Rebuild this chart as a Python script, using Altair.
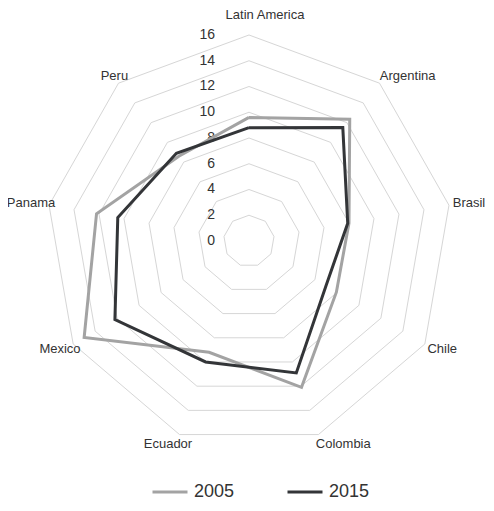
import altair as alt
import pandas as pd

# ---- data ----
categories = ["Latin America", "Argentina", "Brasil", "Chile", "Colombia",
              "Ecuador", "Mexico", "Panama", "Peru"]
values_2005 = [9.6, 12.35, 8.0, 7.95, 12.1, 9.2, 15.0, 12.2, 8.6]
values_2015 = [8.8, 11.5, 7.9, 7.0, 10.9, 10.0, 12.2, 10.5, 8.9]
years = ["2005", "2015"]
grid_levels = [2, 4, 6, 8, 10, 12, 14, 16]
tick_labels = [0, 2, 4, 6, 8, 10, 12, 14, 16]

FONT = "Liberation Sans"
TEXT_COLOR = "#333333"
n = len(categories)

series_rows = []
for year, vals in zip(years, [values_2005, values_2015]):
    for i in range(n + 1):
        series_rows.append({"year": year, "idx": i, "value": vals[i % n]})
series_df = pd.DataFrame(series_rows)

grid_df = pd.DataFrame([{"level": lv, "idx": i, "value": lv}
                        for lv in grid_levels for i in range(n + 1)])
label_df = pd.DataFrame({"category": categories, "idx": list(range(n))})
tick_df = pd.DataFrame({"value": tick_labels, "label": [str(t) for t in tick_labels]})

angle_expr = f"2 * PI * datum.idx / {n}"
x_scale = alt.Scale(domain=[-18.991, 18.676], nice=False, zero=False)
y_scale = alt.Scale(domain=[-20.35, 18.097], nice=False, zero=False)


def polar(base, r_expr="datum.value"):
    return base.transform_calculate(
        angle=angle_expr,
        px=f"({r_expr}) * sin(datum.angle)",
        py=f"({r_expr}) * cos(datum.angle)",
    )


X = alt.X("px:Q", scale=x_scale, axis=None)
Y = alt.Y("py:Q", scale=y_scale, axis=None)

grid = polar(alt.Chart(grid_df)).mark_line(color="#d6d6d6", strokeWidth=1).encode(
    x=X, y=Y, detail="level:N", order="idx:Q"
)

ticks = alt.Chart(tick_df).transform_calculate(px="0", py="datum.value").mark_text(
    align="right", baseline="middle", dx=-34, fontSize=14, font=FONT, color=TEXT_COLOR
).encode(x=X, y=Y, text="label:N")

series = polar(alt.Chart(series_df)).mark_line(strokeWidth=3).encode(
    x=X, y=Y, order="idx:Q",
    color=alt.Color(
        "year:N",
        scale=alt.Scale(domain=years, range=["#a3a3a3", "#333538"]),
        legend=alt.Legend(
            title=None, orient="none", legendX=143, legendY=465,
            direction="horizontal", symbolType="stroke", symbolSize=1225,
            symbolStrokeWidth=3, labelFontSize=18, labelFont=FONT,
            labelColor=TEXT_COLOR, labelOffset=5, columnPadding=46, padding=0,
        ),
    ),
)

label_base = polar(alt.Chart(label_df), "16.78")
lab_top = label_base.transform_filter("datum.idx == 0").mark_text(
    align="center", baseline="middle", dx=16, dy=-10, fontSize=13, font=FONT, color=TEXT_COLOR
).encode(x=X, y=Y, text="category:N")
lab_right = label_base.transform_filter("datum.idx >= 1 && datum.idx <= 4").mark_text(
    align="left", baseline="middle", dx=-6, fontSize=13, font=FONT, color=TEXT_COLOR
).encode(x=X, y=Y, text="category:N")
lab_left = label_base.transform_filter("datum.idx >= 5").mark_text(
    align="right", baseline="middle", dx=16, fontSize=13, font=FONT, color=TEXT_COLOR
).encode(x=X, y=Y, text="category:N")

chart = alt.layer(grid, ticks, series, lab_top, lab_right, lab_left).properties(
    width=478, height=495, padding=0,
    autosize=alt.AutoSizeParams(type="none"),
).configure_view(stroke=None)

chart.save("out.html", embed_options={"renderer": "svg", "actions": False})
